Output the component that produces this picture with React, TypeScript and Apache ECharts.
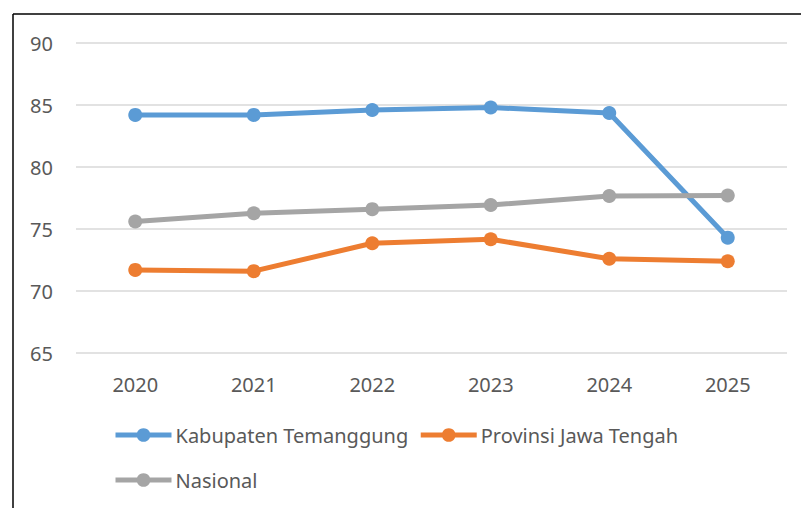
import React, { useEffect, useRef } from "react";
import * as echarts from "echarts";

const years = ["2020", "2021", "2022", "2023", "2024", "2025"];
const kabupaten = [84.2, 84.2, 84.6, 84.8, 84.35, 74.3];
const provinsi = [71.7, 71.6, 73.85, 74.17, 72.6, 72.4];
const nasional = [75.6, 76.27, 76.6, 76.94, 77.66, 77.7];
const seriesNames = ["Kabupaten Temanggung", "Provinsi Jawa Tengah", "Nasional"];
const colors = ["#5B9BD5", "#ED7D31", "#A5A5A5"];

export default function App() {
  const ref = useRef<HTMLDivElement>(null);
  useEffect(() => {
    if (!ref.current) return;
    const chart = echarts.init(ref.current, null, { renderer: "svg" });
    const font = "'Noto Sans', sans-serif";
    const mk = (name: string, data: number[], color: string) => ({
      name,
      type: "line",
      data,
      symbol: "circle",
      symbolSize: 14,
      lineStyle: { width: 5, color },
      itemStyle: { color },
      emphasis: { disabled: true },
    });
    const legendBase = {
      left: 113,
      padding: 0,
      itemWidth: 56,
      itemHeight: 17,
      itemGap: 10,
      orient: "horizontal",
      lineStyle: { width: 5 },
      textStyle: { color: "#595959", fontSize: 20, fontFamily: font, padding: [0, 0, 0, -1] },
      selectedMode: false,
    };
    chart.setOption({
      animation: false,
      grid: { left: 76, right: 14, top: 43, bottom: 155 },
      xAxis: {
        type: "category",
        data: years,
        axisLine: { show: false },
        axisTick: { show: false },
        axisLabel: { color: "#595959", fontSize: 20, fontFamily: font, margin: 21 },
      },
      yAxis: {
        type: "value",
        min: 65,
        max: 90,
        interval: 5,
        axisLine: { show: false },
        axisTick: { show: false },
        axisLabel: { color: "#595959", fontSize: 20, fontFamily: font, margin: 23 },
        splitLine: { lineStyle: { color: "#D9D9D9", width: 1.5 } },
      },
      legend: [
        { ...legendBase, top: 425, data: [seriesNames[0], seriesNames[1]] },
        { ...legendBase, top: 470, data: [seriesNames[2]] },
      ],
      series: [
        mk(seriesNames[0], kabupaten, colors[0]),
        mk(seriesNames[1], provinsi, colors[1]),
        mk(seriesNames[2], nasional, colors[2]),
      ],
      graphic: [
        { type: "line", shape: { x1: 13, y1: 14, x2: 13, y2: 508 }, style: { stroke: "#000", lineWidth: 1.5 } },
        { type: "line", shape: { x1: 13, y1: 14, x2: 801, y2: 14 }, style: { stroke: "#000", lineWidth: 1.5 } },
      ],
    });
    return () => chart.dispose();
  }, []);
  return (
    <div
      ref={ref}
      style={{ position: "fixed", left: 0, top: 0, width: 801, height: 508, background: "#fff" }}
    />
  );
}
